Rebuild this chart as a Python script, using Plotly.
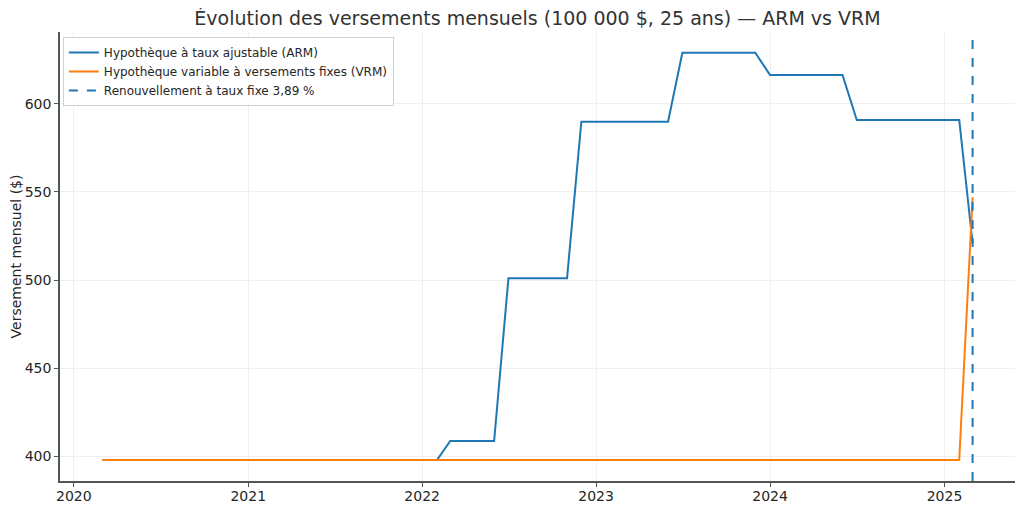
import plotly.graph_objects as go

# ---- data ----
months = [f"{y}-{m:02d}-01" for y in range(2020, 2026) for m in range(1, 13)
          if (y, m) >= (2020, 3) and (y, m) <= (2025, 3)]

arm_payment = [
    # 2020 (Mar-Dec)
    397.7, 397.7, 397.7, 397.7, 397.7, 397.7, 397.7, 397.7, 397.7, 397.7,
    # 2021
    397.7, 397.7, 397.7, 397.7, 397.7, 397.7, 397.7, 397.7, 397.7, 397.7, 397.7, 397.7,
    # 2022
    397.7, 397.7, 408.5, 408.5, 408.5, 408.5, 501.0, 501.0, 501.0, 501.0, 501.0, 589.9,
    # 2023
    589.9, 589.9, 589.9, 589.9, 589.9, 589.9, 629.1, 629.1, 629.1, 629.1, 629.1, 629.1,
    # 2024
    616.5, 616.5, 616.5, 616.5, 616.5, 616.5, 590.9, 590.9, 590.9, 590.9, 590.9, 590.9,
    # 2025 (Jan-Mar)
    590.9, 590.9, 521.0,
]

vrm_payment = [
    397.7, 397.7, 397.7, 397.7, 397.7, 397.7, 397.7, 397.7, 397.7, 397.7,
    397.7, 397.7, 397.7, 397.7, 397.7, 397.7, 397.7, 397.7, 397.7, 397.7, 397.7, 397.7,
    397.7, 397.7, 397.7, 397.7, 397.7, 397.7, 397.7, 397.7, 397.7, 397.7, 397.7, 397.7,
    397.7, 397.7, 397.7, 397.7, 397.7, 397.7, 397.7, 397.7, 397.7, 397.7, 397.7, 397.7,
    397.7, 397.7, 397.7, 397.7, 397.7, 397.7, 397.7, 397.7, 397.7, 397.7, 397.7, 397.7,
    397.7, 397.7, 547.0,
]

renewal_date = "2025-03-01"

series_names = [
    "Hypothèque à taux ajustable (ARM)",
    "Hypothèque variable à versements fixes (VRM)",
    "Renouvellement à taux fixe 3,89 %",
]
title_text = "Évolution des versements mensuels (100 000 $, 25 ans) — ARM vs VRM"
y_title = "Versement mensuel ($)"

BLUE = "#1f77b4"
ORANGE = "#ff7f0e"
FONT = "DejaVu Sans"
TXT = "#262626"

# The page body has an 8px margin, so the figure is sized to fit inside the window.
FIG_W, FIG_H = 1016, 500

fig = go.Figure()
fig.add_trace(go.Scatter(x=months, y=arm_payment, mode="lines", name=series_names[0],
                         line=dict(color=BLUE, width=2)))
fig.add_trace(go.Scatter(x=months, y=vrm_payment, mode="lines", name=series_names[1],
                         line=dict(color=ORANGE, width=2)))
# legend entry for the renewal line
fig.add_trace(go.Scatter(x=[None], y=[None], mode="lines", name=series_names[2],
                         line=dict(color=BLUE, width=2, dash="dash")))

fig.add_shape(type="line", xref="x", yref="paper", x0=renewal_date, x1=renewal_date,
              y0=0, y1=1, line=dict(color=BLUE, width=2, dash="dash"))

fig.update_layout(
    width=FIG_W, height=FIG_H,
    margin=dict(l=52, r=9, t=24, b=27),
    paper_bgcolor="white", plot_bgcolor="white",
    font=dict(family=FONT, size=14, color=TXT),
    title=dict(text=title_text, x=(52 + FIG_W - 9) / 2 / FIG_W, xanchor="center",
               y=1 - 10 / FIG_H, yanchor="middle", automargin=False,
               font=dict(family=FONT, size=19, color="#333333")),
    showlegend=True,
    legend=dict(x=0.003, y=0.989, xanchor="left", yanchor="top",
                bgcolor="rgba(255,255,255,0.85)", bordercolor="#d0d0d0", borderwidth=1,
                font=dict(family=FONT, size=12, color=TXT),
                tracegroupgap=0, itemwidth=30),
)

fig.update_xaxes(
    type="date", range=["2019-12-03", "2025-05-29"],
    tick0="2020-01-01", dtick="M12", tickformat="%Y",
    showgrid=True, gridcolor="#efefef", gridwidth=1,
    showline=True, linecolor="#555555", linewidth=1.5,
    ticks="outside", ticklen=4, tickcolor="#555555", ticklabelstandoff=-3,
    zeroline=False, automargin=False, tickfont=dict(size=14, color=TXT),
)
fig.update_yaxes(
    range=[385.8, 640.9], tickvals=[400, 450, 500, 550, 600],
    showgrid=True, gridcolor="#efefef", gridwidth=1,
    showline=True, linecolor="#555555", linewidth=1.5,
    ticks="outside", ticklen=4, tickcolor="#555555",
    zeroline=False, automargin=False, tickfont=dict(size=14, color=TXT),
    title=dict(text=y_title, font=dict(size=14, color=TXT), standoff=2),
)

fig.write_html("out.html")
